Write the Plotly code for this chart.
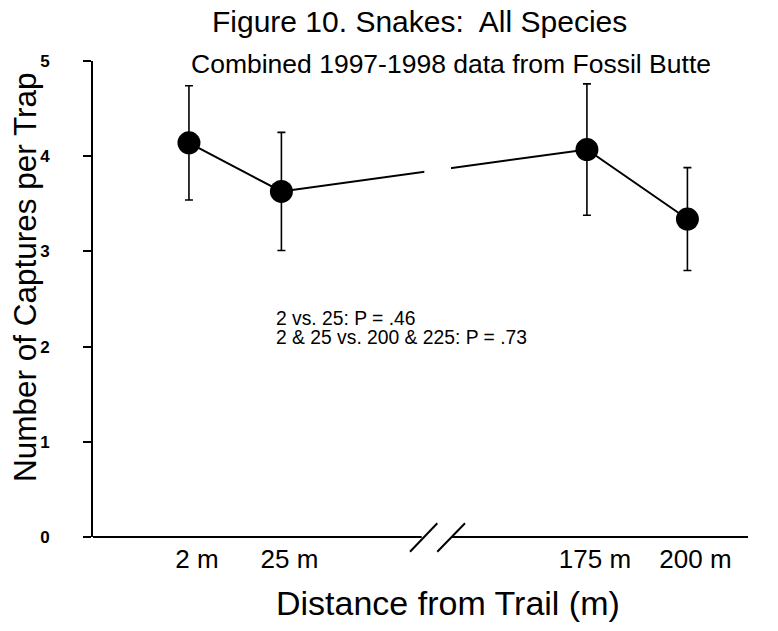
import plotly.graph_objects as go

# ---- data ----
distances_m = [2, 25, 175, 200]
tick_labels = ["2 m", "25 m", "175 m", "200 m"]
mean_captures = [4.14, 3.63, 4.07, 3.34]
error_half = [0.60, 0.62, 0.69, 0.54]
y_ticks = [0, 1, 2, 3, 4, 5]

title_text = "Figure 10. Snakes:  All Species"
subtitle_text = "Combined 1997-1998 data from Fossil Butte"
stats_lines = ["2 vs. 25: P = .46", "2 &amp; 25 vs. 200 &amp; 225: P = .73"]

# ---- broken-axis transform (axis break compresses the 25-175 m gap) ----
BREAK_AT = 100
BREAK_REMOVED = 74


def to_axis(d):
    return d if d < BREAK_AT else d - BREAK_REMOVED


x_plot = [to_axis(d) for d in distances_m]

FONT = "Liberation Sans, Arial, sans-serif"
X_RANGE = [-21.87, 141.07]

fig = go.Figure()
fig.add_trace(go.Scatter(
    x=x_plot, y=mean_captures, mode="lines+markers",
    line=dict(color="black", width=2),
    marker=dict(size=23, color="black"),
    error_y=dict(type="data", array=error_half, visible=True,
                 color="black", thickness=1.6, width=4),
    showlegend=False, cliponaxis=False,
))

shapes = [
    # gap in the connecting line at the axis break
    dict(type="rect", xref="x", yref="y", x0=60.55, x1=67.19, y0=3.5, y1=4.3,
         fillcolor="white", line=dict(width=0), layer="above"),
    # x axis line, in two pieces
    dict(type="line", xref="x", yref="paper", x0=X_RANGE[0], x1=59.9, y0=0, y1=0,
         line=dict(color="black", width=2)),
    dict(type="line", xref="x", yref="paper", x0=67.36, x1=X_RANGE[1], y0=0, y1=0,
         line=dict(color="black", width=2)),
    # break marks //
    dict(type="line", xref="x", yref="paper", x0=56.99, x1=63.78, y0=-0.031, y1=0.029,
         line=dict(color="black", width=2)),
    dict(type="line", xref="x", yref="paper", x0=63.78, x1=70.67, y0=-0.031, y1=0.029,
         line=dict(color="black", width=2)),
]

annotations = [
    dict(text=title_text, xref="paper", yref="paper", x=0.498, y=1.082,
         xanchor="center", yanchor="middle", showarrow=False,
         font=dict(size=30, color="black", family=FONT)),
    dict(text=subtitle_text, xref="paper", yref="paper", x=0.547, y=0.994,
         xanchor="center", yanchor="middle", showarrow=False,
         font=dict(size=26.5, color="black", family=FONT)),
    dict(text="Number of Captures per Trap", xref="paper", yref="paper",
         x=-0.1038, y=0.546, textangle=-90, xanchor="center", yanchor="middle",
         showarrow=False, font=dict(size=31.5, color="black", family=FONT)),
    dict(text="Distance from Trail (m)", xref="paper", yref="paper",
         x=0.542, y=-0.139, xanchor="center", yanchor="middle", showarrow=False,
         font=dict(size=34, color="black", family=FONT)),
    dict(text=stats_lines[0], xref="paper", yref="paper", x=0.2763, y=0.4586,
         xanchor="left", yanchor="middle", showarrow=False,
         font=dict(size=19.3, color="black", family=FONT)),
    dict(text=stats_lines[1], xref="paper", yref="paper", x=0.2763, y=0.4195,
         xanchor="left", yanchor="middle", showarrow=False,
         font=dict(size=19.3, color="black", family=FONT)),
]

fig.update_layout(
    width=778, height=631,
    margin=dict(l=93, r=30, t=61, b=94),
    paper_bgcolor="white", plot_bgcolor="white",
    font=dict(family=FONT, color="black"),
    shapes=shapes, annotations=annotations,
    xaxis=dict(range=X_RANGE, showgrid=False, zeroline=False, showline=False,
               tickvals=x_plot, ticktext=tick_labels, ticks="",
               tickfont=dict(size=26, color="black", family=FONT),
               ticklabelshift=8, ticklabelstandoff=4),
    yaxis=dict(range=[0, 5], showgrid=False, zeroline=False, showline=True,
               linecolor="black", linewidth=2, ticks="outside", ticklen=8,
               tickwidth=1.5, tickcolor="black", tickvals=y_ticks,
               tickfont=dict(size=17, color="black", family=FONT, weight="bold"),
               ticklabelstandoff=30),
)

# remove the browser's default 8px body margin so the figure fills the window
fig.write_html("out.html",
               config={"displayModeBar": False},
               post_script="document.body.style.margin='0';"
                           "document.body.style.overflow='hidden';")
